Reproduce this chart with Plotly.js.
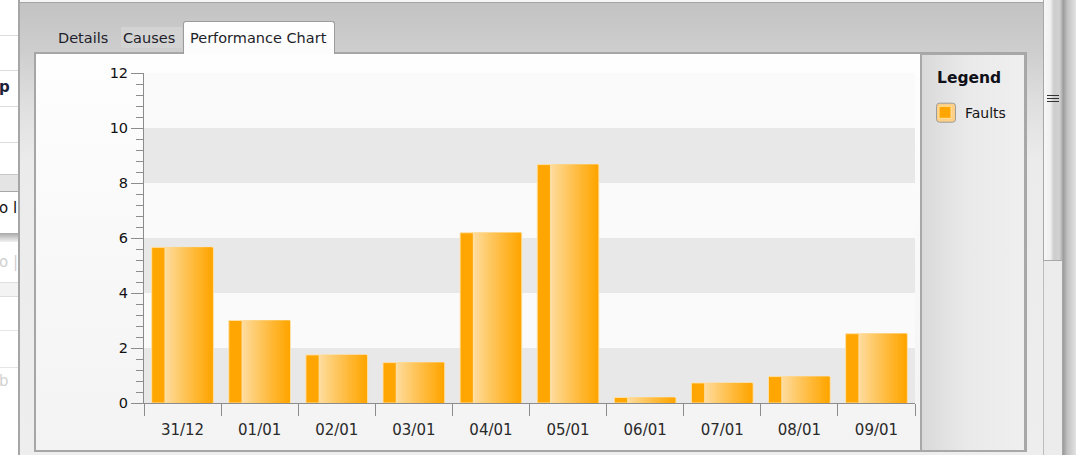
<!DOCTYPE html>
<html>
<head>
<meta charset="utf-8">
<script src="https://cdn.plot.ly/plotly-3.0.1.min.js"></script>
<style>
html,body{margin:0;padding:0;width:1076px;height:455px;overflow:hidden;background:#eeeeee;font-family:"DejaVu Sans",sans-serif;}
.a{position:absolute;}
.hl{position:absolute;left:0;width:18px;height:1px;}
</style>
</head>
<body>
<div class="a" style="left:0;top:0;width:1076px;height:455px;overflow:hidden;">
  <!-- left cut-off panel -->
  <div class="a" style="left:0;top:0;width:18px;height:455px;background:#ffffff;overflow:hidden;">
    <div class="hl" style="top:35px;background:#dcdcdc;"></div>
    <div class="hl" style="top:70px;background:#dcdcdc;"></div>
    <div class="a" style="left:-1px;top:78px;font-size:15px;font-weight:bold;color:#1c2238;">p</div>
    <div class="hl" style="top:106px;background:#dcdcdc;"></div>
    <div class="hl" style="top:142px;background:#dcdcdc;"></div>
    <div class="a" style="left:0;top:174px;width:18px;height:16px;background:#e4e4e4;border-top:1px solid #c8c8c8;border-bottom:1px solid #a8a8a8;"></div>
    <div class="a" style="left:-1px;top:199px;font-size:15px;color:#111;white-space:nowrap;">o l</div>
    <div class="a" style="left:0;top:233px;width:18px;height:9px;background:linear-gradient(#a8a8a8,#f2f2f2);"></div>
    <div class="a" style="left:-1px;top:253px;font-size:15px;color:#cfcfcf;white-space:nowrap;">o |</div>
    <div class="a" style="left:0;top:282px;width:18px;height:13px;background:#f3f3f3;border-top:1px solid #dedede;border-bottom:1px solid #dedede;"></div>
    <div class="hl" style="top:330px;background:#e6e6e6;"></div>
    <div class="hl" style="top:367px;background:#e6e6e6;"></div>
    <div class="a" style="left:-1px;top:372px;font-size:15px;color:#d2d2d2;">b</div>
  </div>
  <div class="a" style="left:18px;top:0;width:2px;height:455px;background:#a6a6a6;"></div>

  <!-- main window -->
  <div class="a" style="left:20px;top:0;width:1023px;height:455px;background:linear-gradient(#c2c2c2 0px,#cecece 52px,#dedede 100px,#ebebeb 160px,#eeeeee 455px);"></div>
  <div class="a" style="left:20px;top:0;width:1023px;height:2px;background:#f6f6f6;"></div>
  <div class="a" style="left:20px;top:2px;width:1023px;height:1px;background:#a4a4a4;"></div>

  <!-- tabs -->
  <div class="a" style="left:58px;top:30px;font-size:14.5px;color:#1e1e2a;">Details</div>
  <div class="a" style="left:121px;top:27px;width:61px;height:21px;background:#d3d3d3;"></div>
  <div class="a" style="left:123px;top:30px;font-size:14.5px;color:#1e1e2a;">Causes</div>

  <!-- inner panel -->
  <div class="a" style="left:34px;top:52px;width:993px;height:400px;box-sizing:border-box;border:2px solid #a6a6a6;background:linear-gradient(#fefefe,#f3f3f3);"></div>
  <div class="a" style="left:183px;top:21px;width:152px;height:33px;box-sizing:border-box;border:1px solid #9c9c9c;border-bottom:none;border-radius:3px 3px 0 0;background:linear-gradient(#ffffff,#fcfcfc);"></div>
  <div class="a" style="left:190px;top:30px;font-size:14.5px;color:#1e1e2a;white-space:nowrap;">Performance Chart</div>

  <!-- legend panel -->
  <div class="a" style="left:920px;top:53px;width:106px;height:399px;box-sizing:border-box;border:2px solid #a8a8a8;background:linear-gradient(to right,#d9d9d9,#eaeaea 45%,#efefef);"></div>

  <!-- scrollbar -->
  <div class="a" style="left:1043px;top:0;width:20px;height:455px;box-sizing:border-box;background:#ececec;border-left:1px solid #bdbdbd;border-right:1px solid #a6a6a6;"></div>
  <div class="a" style="left:1043px;top:0;width:20px;height:261px;box-sizing:border-box;border:1px solid #a8a8a8;border-top:none;background:linear-gradient(to right,#f7f7f7 0%,#f0f0f0 35%,#cdcdcd 55%,#d2d2d2 85%,#b4b4b4 100%);"></div>
  <div class="a" style="left:1047px;top:95px;width:12px;height:1px;background:#333;"></div>
  <div class="a" style="left:1047px;top:98px;width:12px;height:1px;background:#333;"></div>
  <div class="a" style="left:1047px;top:101px;width:12px;height:1px;background:#333;"></div>
  <div class="a" style="left:1063px;top:0;width:13px;height:455px;background:linear-gradient(to right,#9a9a9a,#c2c2c2 35%,#e2e2e2 100%);"></div>

  <div id="chart" class="a" style="left:0;top:0;width:1076px;height:455px;"></div>
</div>

<script>
// ---- data ----
const categories = ['31/12','01/01','02/01','03/01','04/01','05/01','06/01','07/01','08/01','09/01'];
const faults = [5.66, 3.0, 1.75, 1.47, 6.19, 8.67, 0.2, 0.73, 0.96, 2.52];
const seriesName = 'Faults';
const legendTitle = 'Legend';
const yTickVals = [0, 2, 4, 6, 8, 10, 12];
const yTickText = ['0', '2', '4', '6', '8', '10', '12'];
const bandStarts = [0, 4, 8];
const bandSize = 2;

// ---- styling ----
const FONT = 'DejaVu Sans';
const ORANGE = [255, 166, 2];
const LIGHT = [254, 221, 160];
const BAR_W = 0.8;
const SOLID_PART = 0.165;   // left solid strip (category units)
const N_SLICES = 22;

// plot-area geometry (pixels) used to place decorations in paper units
const PL = 144, PW = 771, PB = 403.3, PH = 330;
const px = x => (x - PL) / PW;
const py = y => (PB - y) / PH;

function mix(a, b, t) {
  const c = a.map((v, i) => Math.round(v + (b[i] - v) * t));
  return 'rgb(' + c.join(',') + ')';
}

const traces = [{
  type: 'bar',
  name: seriesName,
  x: categories,
  y: faults,
  width: BAR_W,
  offset: -BAR_W / 2,
  marker: {color: mix(ORANGE, ORANGE, 0), line: {color: 'rgba(255,226,168,0.95)', width: 1}},
  hoverinfo: 'skip'
}];

const gStart = -BAR_W / 2 + SOLID_PART;
const gEnd = BAR_W / 2 - 0.012;
const sw = (gEnd - gStart) / N_SLICES;
for (let i = 0; i < N_SLICES; i++) {
  const off = gStart + i * sw;
  const w = Math.min(sw * 1.5, gEnd - off);
  const t = Math.pow(i / (N_SLICES - 1), 0.9);
  traces.push({
    type: 'bar',
    x: categories,
    y: faults,
    width: w,
    offset: off,
    marker: {color: mix(LIGHT, ORANGE, t), line: {width: 0}},
    showlegend: false,
    hoverinfo: 'skip'
  });
}

const shapes = bandStarts.map(s => ({
  type: 'rect', xref: 'paper', yref: 'y',
  x0: 0, x1: 1, y0: s, y1: s + bandSize,
  fillcolor: '#e8e8e8', line: {width: 0}, layer: 'below'
}));

// rounded frame behind the legend swatch
function roundRect(x0, y0, x1, y1, r) {
  const X = v => px(v).toFixed(5), Y = v => py(v).toFixed(5);
  return 'M' + X(x0 + r) + ',' + Y(y0) + ' L' + X(x1 - r) + ',' + Y(y0) +
    ' Q' + X(x1) + ',' + Y(y0) + ' ' + X(x1) + ',' + Y(y0 + r) +
    ' L' + X(x1) + ',' + Y(y1 - r) +
    ' Q' + X(x1) + ',' + Y(y1) + ' ' + X(x1 - r) + ',' + Y(y1) +
    ' L' + X(x0 + r) + ',' + Y(y1) +
    ' Q' + X(x0) + ',' + Y(y1) + ' ' + X(x0) + ',' + Y(y1 - r) +
    ' L' + X(x0) + ',' + Y(y0 + r) +
    ' Q' + X(x0) + ',' + Y(y0) + ' ' + X(x0 + r) + ',' + Y(y0) + ' Z';
}
shapes.push({
  type: 'path', xref: 'paper', yref: 'paper',
  path: roundRect(936.5, 103.5, 955.5, 122.5, 3),
  fillcolor: '#fdd086', line: {color: '#9c9c9c', width: 1}, layer: 'above'
});

const axisCol = '#8c8c8c';
const layout = {
  width: 1076, height: 455,
  margin: {l: 144, r: 161, t: 73, b: 52, pad: 0},
  paper_bgcolor: 'rgba(0,0,0,0)',
  plot_bgcolor: '#fafafa',
  barmode: 'overlay',
  hovermode: false,
  font: {family: FONT, color: '#1a1a1a'},
  xaxis: {
    type: 'category',
    categoryorder: 'array', categoryarray: categories,
    range: [-0.5, categories.length - 0.5],
    showline: true, linecolor: axisCol, linewidth: 1,
    ticks: 'outside', ticklen: 12, tickcolor: axisCol, tickwidth: 1,
    tickson: 'boundaries',
    showgrid: false, zeroline: false,
    tickfont: {family: FONT, size: 15, color: '#2a2a2a'},
    ticklabelstandoff: 13,
    fixedrange: true
  },
  yaxis: {
    range: [0, 12],
    tickmode: 'array', tickvals: yTickVals, ticktext: yTickText,
    showline: true, linecolor: axisCol, linewidth: 1,
    ticks: 'outside', ticklen: 12, tickcolor: axisCol, tickwidth: 1,
    minor: {dtick: 0.4, tick0: 0, ticks: 'outside', ticklen: 7, tickcolor: axisCol, tickwidth: 1, showgrid: false},
    showgrid: false, zeroline: false,
    tickfont: {family: FONT, size: 14.5, color: '#111111'},
    fixedrange: true
  },
  shapes: shapes,
  annotations: [{
    xref: 'paper', yref: 'paper',
    x: px(935), y: py(78), xanchor: 'left', yanchor: 'middle',
    text: '<b>' + legendTitle + '</b>', showarrow: false,
    font: {family: FONT, size: 15.5, color: '#101018'}
  }],
  showlegend: true,
  legend: {
    x: px(925), xanchor: 'left',
    y: py(97), yanchor: 'top',
    bgcolor: 'rgba(0,0,0,0)', borderwidth: 0,
    font: {family: FONT, size: 14, color: '#151515'},
    itemwidth: 30
  }
};

Plotly.newPlot('chart', traces, layout, {displayModeBar: false, staticPlot: true});
</script>
</body>
</html>
